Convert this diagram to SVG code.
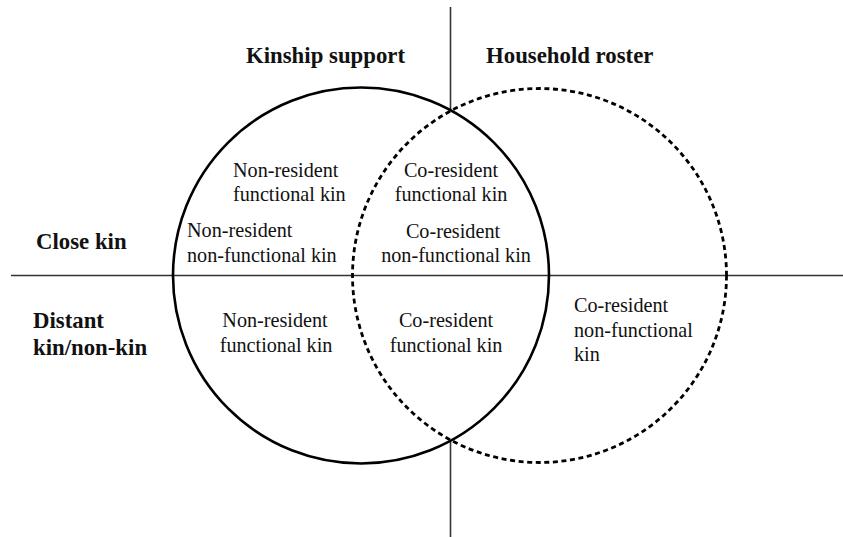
<svg xmlns="http://www.w3.org/2000/svg" width="843" height="537" viewBox="0 0 843 537">
<style>
.bg{fill:#fff}
.axis{stroke:#333;stroke-width:1.6;fill:none}
.circ{fill:none;stroke:#000;stroke-width:2.6}
.dash{stroke-dasharray:5 3.6;stroke-width:2.8}
.h{font-family:"Liberation Serif","Times New Roman",serif;font-weight:bold;font-size:22.8px;fill:#111}
.t{font-family:"Liberation Serif","Times New Roman",serif;font-size:20.2px;fill:#111}
.c{text-anchor:middle}
</style>
<rect class="bg" x="0" y="0" width="843" height="537"/>
<g id="axes">
<line class="axis" x1="11" y1="275.5" x2="843" y2="275.5"/>
<line class="axis" x1="450.5" y1="7" x2="450.5" y2="110"/>
<line class="axis" x1="450.5" y1="441" x2="450.5" y2="537"/>
</g>
<g id="kinship-support">
<circle class="circ" cx="361" cy="275.5" r="188"/>
<text class="h" x="246" y="63">Kinship support</text>
</g>
<g id="household-roster">
<circle class="circ dash" cx="539.5" cy="275.5" r="187"/>
<text class="h" x="486" y="63">Household roster</text>
</g>
<g id="row-labels">
<text class="h" x="36" y="249">Close kin</text>
<text class="h" x="33" y="328">Distant</text>
<text class="h" x="33" y="355">kin/non-kin</text>
</g>
<g id="cells">
<text class="t" x="233" y="177">Non-resident</text>
<text class="t" x="233" y="201">functional kin</text>
<text class="t" x="187" y="237">Non-resident</text>
<text class="t" x="187" y="262">non-functional kin</text>
<text class="t c" x="451" y="177">Co-resident</text>
<text class="t c" x="451" y="201">functional kin</text>
<text class="t c" x="453" y="238">Co-resident</text>
<text class="t c" x="456" y="262">non-functional kin</text>
<text class="t c" x="275" y="327">Non-resident</text>
<text class="t c" x="276" y="352">functional kin</text>
<text class="t c" x="446" y="327">Co-resident</text>
<text class="t c" x="446" y="352">functional kin</text>
<text class="t" x="574" y="312">Co-resident</text>
<text class="t" x="574" y="337">non-functional</text>
<text class="t" x="574" y="361">kin</text>
</g>
</svg>
